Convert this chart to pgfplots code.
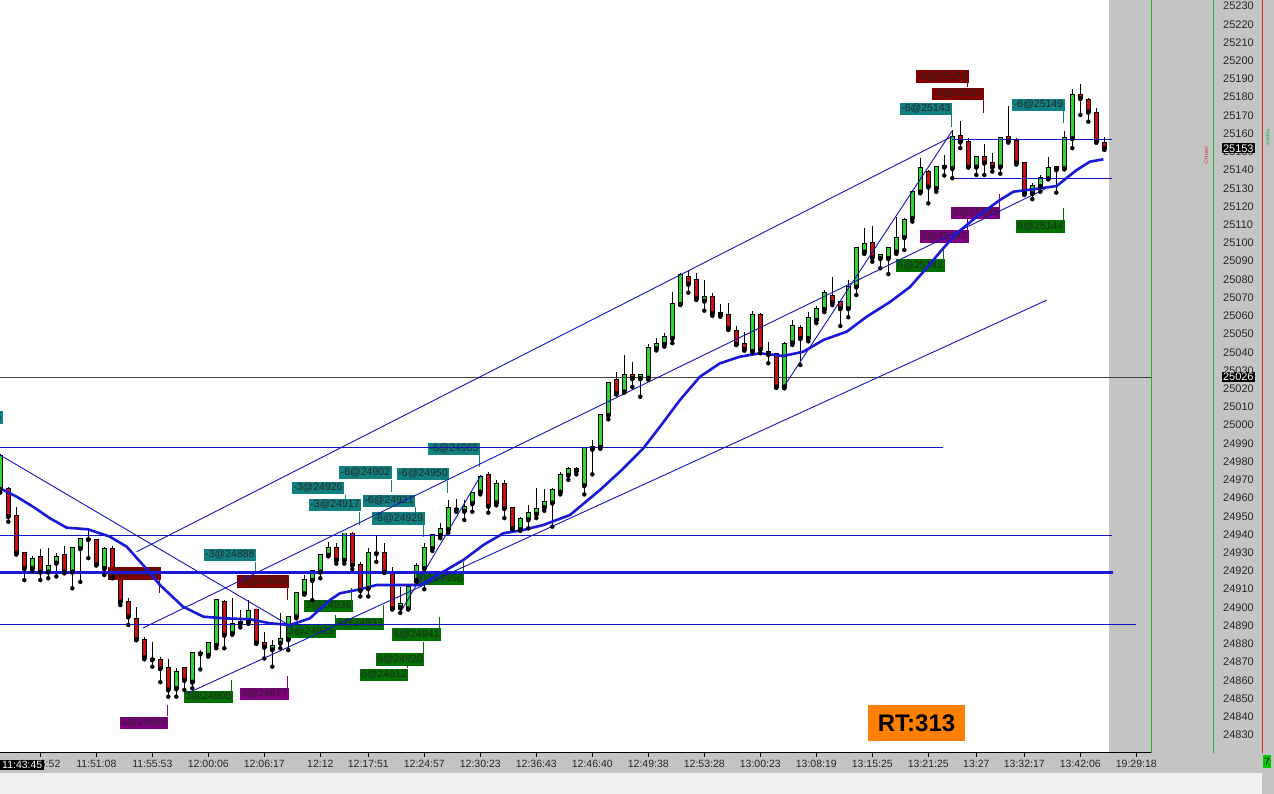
\documentclass[border=0pt]{standalone}
\usepackage{fontspec}
\setmainfont{Liberation Sans}
\usepackage{pgfplots}
\usepackage{pgfplotstable}
\pgfplotsset{compat=1.18}

\definecolor{bgray}{RGB}{196,196,196}
\definecolor{lgray}{RGB}{240,240,240}
\definecolor{upgreen}{RGB}{45,215,45}
\definecolor{dnred}{RGB}{205,15,15}
\definecolor{mablue}{RGB}{25,25,215}
\definecolor{lnblue}{RGB}{20,20,190}
\definecolor{tealbox}{RGB}{16,128,128}
\definecolor{redbox}{RGB}{128,0,0}
\definecolor{purbox}{RGB}{128,0,128}
\definecolor{grnbox}{RGB}{0,112,0}
\definecolor{edgegreen}{RGB}{30,185,30}
\definecolor{edgered}{RGB}{215,40,40}
\definecolor{rtorange}{RGB}{255,128,0}

% candles: index, open, high, low, close
\pgfplotstableread{
k o h l c
-1 24965 24984 24963 24983
0 24965 24966 24947 24950
1 24950 24955 24929 24930
2 24930 24930 24915 24921.5
3 24921.5 24928 24920 24926.4
4 24927.5 24932 24915 24919.6
5 24919.6 24932.4 24916 24922.7
6 24924.5 24929.7 24917 24927.8
7 24928.8 24933.7 24918.7 24919.6
8 24919.6 24932.4 24910.5 24932.4
9 24932.4 24937.5 24914 24937.4
10 24937.4 24943.4 24927 24937.4
11 24937 24937.2 24923 24923.7
12 24921.5 24933.3 24917.8 24931.9
13 24931.9 24933.7 24916 24916.9
14 24917 24917 24901.3 24903.2
15 24903 24905 24890.4 24895
16 24893.5 24900.4 24882 24882.5
17 24882 24883.6 24871.5 24872.6
18 24871.5 24881.2 24867.5 24871.5
19 24871 24873 24859 24866.6
20 24866.6 24871.5 24851 24855
21 24855.6 24866.6 24851 24864.7
22 24866.6 24867.5 24854.7 24860.2
23 24859.2 24875 24855.6 24874.8
24 24874.8 24876.6 24866 24874.8
25 24874 24881.2 24873 24880.6
26 24879.4 24904.5 24877.6 24904.1
27 24903.2 24904.1 24877.6 24884.9
28 24885.8 24905 24885 24890.7
29 24892 24898.6 24889 24891
30 24892 24904 24891 24898
31 24898.9 24899.4 24880 24880.6
32 24880.6 24886.6 24872 24878.4
33 24877 24882 24867.5 24878.8
34 24880.6 24896.8 24877.6 24882.5
35 24882.5 24895.5 24876.6 24895
36 24895 24907.7 24894 24907.7
37 24907.7 24917.8 24907 24915
38 24915 24920.5 24904 24919.9
39 24919.6 24928.8 24916 24928.8
40 24928.8 24936.1 24928 24932.4
41 24932.4 24935.2 24924 24926
42 24926 24941 24924 24940.6
43 24940.6 24941.5 24921 24923.3
44 24923.3 24925 24906 24909.5
45 24910.5 24932.4 24906 24929.7
46 24929.7 24939.7 24925 24930
47 24929.7 24935.5 24919 24919.6
48 24919.6 24922.3 24899 24899.4
49 24900 24911 24897 24902
50 24899.4 24912.3 24899 24911.4
51 24915 24924.2 24914 24922.7
52 24921.5 24935.2 24910 24932.4
53 24932.4 24940 24931 24939.7
54 24939.7 24946.1 24938 24942.9
55 24942.9 24958.9 24941 24954.4
56 24953.8 24959.3 24952.5 24953.8
57 24953 24959 24948 24955
58 24957.1 24963 24952.5 24962.6
59 24963.5 24972.7 24962 24971.4
60 24972.7 24974.5 24952 24955.7
61 24957.5 24969.9 24956 24967.7
62 24967.7 24970 24949 24954.4
63 24954.4 24955 24943 24943.4
64 24942.9 24949.8 24942 24948.3
65 24948.3 24956.2 24943.4 24951.6
66 24951.2 24965.3 24949 24953.8
67 24954.9 24964.8 24953 24958
68 24957.5 24965.3 24944.3 24964.2
69 24963.5 24974.5 24962 24972.7
70 24972.7 24977.2 24970 24975.8
71 24976 24977 24973 24975
72 24967 24988 24962 24987.3
73 24987 24992 24973 24988
74 24988.1 25006 24987 25005.5
75 25005.5 25023.8 25003.2 25023.3
76 25024.7 25029.3 25016.9 25017.5
77 25018.4 25038.5 25018 25027.5
78 25027.5 25034.8 25021 25025.7
79 25025.7 25028 25015.6 25027.5
80 25026 25044.4 25025 25042.2
81 25042.2 25047.7 25041 25044.4
82 25044.4 25050.4 25043.1 25048.2
83 25047.7 25073.2 25045 25066.5
84 25066.5 25083.3 25066 25082.4
85 25081.1 25085.1 25072.7 25077.5
86 25079.7 25083.3 25068.7 25069.6
87 25068.3 25079.7 25062.8 25070.2
88 25070.2 25072.7 25060 25061.4
89 25061.7 25066.5 25059.5 25060.5
90 25060.5 25066.9 25052.2 25053.2
91 25051.7 25054.4 25044 25044.5
92 25044.5 25051.3 25040.9 25041.6
93 25040.7 25062.6 25040 25060.3
94 25060.5 25061.4 25039.4 25041.6
95 25040 25045.4 25034 25039
96 25039 25039.5 25020.5 25021.1
97 25021.1 25045.8 25020.2 25044.5
98 25045.3 25057.7 25044 25054.4
99 25053.5 25055 25033 25047.7
100 25047.7 25062.3 25046 25058.6
101 25057.7 25065.4 25056 25063.6
102 25063.6 25074.1 25062 25072.4
103 25071 25081.1 25065.9 25067.4
104 25067.4 25068.7 25054.4 25064.1
105 25064.1 25079.7 25059.2 25076
106 25076 25097.5 25071.4 25097.1
107 25095.2 25108 25094 25099.3
108 25100.1 25109.3 25089.7 25092.1
109 25091.6 25093.4 25086.1 25093.4
110 25091.6 25098 25082.9 25097.1
111 25095.2 25114.4 25094 25102.5
112 25103.1 25113.5 25096.1 25112.6
113 25113.5 25129 25111.7 25128.1
114 25128.1 25146.4 25127.2 25140.9
115 25139.1 25140 25121.7 25130.9
116 25130 25142 25128 25141.8
117 25141.8 25148.3 25137 25142.5
118 25141 25162 25135.5 25158
119 25158.7 25167.1 25152 25155.6
120 25155.6 25157.4 25141.5 25141.8
121 25141.8 25147 25137.3 25147
122 25147 25154.3 25137.3 25144
123 25144 25149.5 25139.1 25141.8
124 25141.8 25158 25138 25157.4
125 25158 25175.1 25155 25156.1
126 25156.1 25157.4 25143 25144
127 25144 25144.5 25126.3 25127.2
128 25127.2 25132.7 25124 25131.2
129 25131.2 25137.3 25128.1 25135.4
130 25135.4 25147 25135 25140.9
131 25141.8 25142.2 25127.6 25140.4
132 25140.9 25161.6 25140.4 25157.4
133 25157.4 25184.4 25152 25181.2
134 25181.2 25187.2 25170.2 25179.4
135 25178.4 25179.4 25166.5 25172
136 25171.5 25173.9 25155 25155.6
137 25155 25158 25151 25152
}\candles

\tikzset{tag/.style={inner xsep=1.5pt, inner ysep=1.6pt, text height=7.6pt,
    text depth=1.8pt, font=\fontsize{10.5}{12}\selectfont, text=black!85}}

\begin{document}
\begin{tikzpicture}
% window background
\begin{scope}[x=1pt, y=1pt]
\fill[white] (0,0) rectangle (1274,794);
\fill[bgray] (1109,41) rectangle (1274,794);
\fill[bgray] (0,21) rectangle (1274,41);
\fill[lgray] (0,0) rectangle (1262,21);
\fill[bgray] (1262,0) rectangle (1274,21);
\end{scope}

\begin{axis}[
    at={(0pt,41pt)}, anchor=south west,
    width=1151pt, height=753pt, scale only axis,
    xmin=-1.0375, xmax=142.8375,
    ymin=24820.12, ymax=25233.29,
    axis x line*=bottom, axis y line*=right,
    x axis line style={-, black, line width=1pt},
    y axis line style={-, draw=none},
    ytick={24830,24840,...,25230},
    ytick style={draw=none},
    scaled y ticks=false,
    yticklabel style={anchor=west, inner sep=0pt, xshift=68pt,
        font=\fontsize{11}{13}\selectfont, text=black!85,
        /pgf/number format/fixed, /pgf/number format/precision=0,
        /pgf/number format/1000 sep={},
        /pgf/number format/assume math mode=true},
    xtick={4,11,18,25,32,39,45,52,59,66,73,80,87,94,101,108,115,121,127,134,141},
    xticklabels={11:46:52,11:51:08,11:55:53,12:00:06,12:06:17,12:12,12:17:51,
        12:24:57,12:30:23,12:36:43,12:46:40,12:49:38,12:53:28,13:00:23,13:08:19,
        13:15:25,13:21:25,13:27,13:32:17,13:42:06,19:29:18},
    tick align=outside, major tick length=4pt,
    xtick style={black, line width=0.8pt},
    xticklabel style={font=\fontsize{10.5}{12}\selectfont, text=black!85},
    unbounded coords=jump,
]
% wicks
\addplot[only marks, mark=none, forget plot,
    error bars/.cd, y dir=plus, y explicit, error mark=none,
    error bar style={draw=black, line width=1pt}]
    table[x=k, y=l, y error plus expr=\thisrow{h}-\thisrow{l}] {\candles};
% body outlines
\addplot[only marks, mark=none, forget plot,
    error bars/.cd, y dir=plus, y explicit, error mark=none,
    error bar style={draw=black, line width=5.4pt}]
    table[x=k, y expr={min(\thisrow{o},\thisrow{c})-0.5},
          y error plus expr={abs(\thisrow{c}-\thisrow{o})+1}] {\candles};
% up bodies
\addplot[only marks, mark=none, forget plot,
    restrict expr to domain={\thisrow{c}-\thisrow{o}}{0:1000},
    error bars/.cd, y dir=plus, y explicit, error mark=none,
    error bar style={draw=upgreen, line width=3.6pt}]
    table[x=k, y=o, y error plus expr={\thisrow{c}-\thisrow{o}}] {\candles};
% down bodies
\addplot[only marks, mark=none, forget plot,
    restrict expr to domain={\thisrow{o}-\thisrow{c}}{0.001:1000},
    error bars/.cd, y dir=plus, y explicit, error mark=none,
    error bar style={draw=dnred, line width=3.6pt}]
    table[x=k, y=c, y error plus expr={\thisrow{o}-\thisrow{c}}] {\candles};

% trade tags
\node[tag, fill=purbox] at (axis cs:16.96,24836.58) {3@24855};
\node[tag, fill=grnbox] at (axis cs:25.03,24850.85) {3@24905};
\node[tag, fill=purbox] at (axis cs:32.03,24852.49) {3@24877};
\node[tag, fill=tealbox] at (axis cs:27.71,24928.76) {-3@24888};
\node[tag, fill=redbox] at (axis cs:31.84,24914.11) {-3@24886};
\node[tag, fill=redbox] at (axis cs:15.78,24918.5) {-3@24880};
\node[tag, fill=grnbox] at (axis cs:40.03,24900.78) {3@24936};
\node[tag, fill=grnbox] at (axis cs:37.88,24886.68) {3@24925};
\node[tag, fill=grnbox] at (axis cs:43.96,24890.9) {6@24933};
\node[tag, fill=tealbox] at (axis cs:40.84,24956.2) {-3@24917};
\node[tag, fill=tealbox] at (axis cs:38.71,24965.5) {-3@24926};
\node[tag, fill=tealbox] at (axis cs:44.65,24974.0) {-6@24902};
\node[tag, fill=tealbox] at (axis cs:47.59,24958.4) {-6@24921};
\node[tag, fill=tealbox] at (axis cs:51.84,24973.2) {-6@24950};
\node[tag, fill=tealbox] at (axis cs:55.71,24986.9) {-6@24965};
\node[tag, fill=tealbox] at (axis cs:48.78,24948.9) {-6@24929};
\node[tag, fill=grnbox] at (axis cs:53.96,24915.6) {6@24956};
\node[tag, fill=grnbox] at (axis cs:51.05,24885.1) {6@24941};
\node[tag, fill=grnbox] at (axis cs:48.96,24871.4) {6@24920};
\node[tag, fill=grnbox] at (axis cs:46.96,24862.9) {6@24912};
\node[tag, fill=tealbox] at (axis cs:114.71,25173.5) {-6@25143};
\node[tag, fill=redbox] at (axis cs:116.78,25191.2) {-6@25151};
\node[tag, fill=redbox] at (axis cs:118.75,25181.8) {-6@25137};
\node[tag, fill=tealbox] at (axis cs:128.78,25175.7) {-6@25149};
\node[tag, fill=purbox] at (axis cs:120.94,25116.5) {6@25135};
\node[tag, fill=purbox] at (axis cs:116.99,25103.4) {6@25147};
\node[tag, fill=grnbox] at (axis cs:113.99,25087.6) {6@25142};
\node[tag, fill=grnbox] at (axis cs:129.03,25109.1) {6@25144};

% tag stems
\addplot[tealbox, line width=1pt, forget plot] coordinates {
 (30.88,24925.1) (30.88,24919.6) (0,nan)
 (43.96,24952.4) (43.96,24945.2) (0,nan)
 (42.09,24961.7) (42.09,24956.2) (0,nan)
 (47.93,24969.9) (47.93,24963.5) (0,nan)
 (50.84,24955.1) (50.84,24952.4) (0,nan)
 (54.93,24969.5) (54.93,24962.9) (0,nan)
 (58.88,24983.6) (58.88,24977.2) (0,nan)
 (51.88,24945.8) (51.88,24938.8) (0,nan)
 (117.88,25170.2) (117.88,25163.8) (0,nan)
 (131.88,25172.5) (131.88,25165.6)};
\addplot[redbox, line width=1pt, forget plot] coordinates {
 (34.88,24911.2) (34.88,24904.1) (0,nan)
 (18.88,24915.0) (18.88,24908.1) (0,nan)
 (119.88,25187.9) (119.88,25185.7) (0,nan)
 (121.88,25178.8) (121.88,25171.5)};
\addplot[purbox, line width=1pt, forget plot] coordinates {
 (19.84,24846.45) (19.84,24840.41) (0,nan)
 (34.9,24862.4) (34.9,24855.8) (0,nan)
 (123.88,25126.8) (123.88,25119.9) (0,nan)
 (119.88,25113.0) (119.88,25106.7)};
\addplot[grnbox, line width=1pt, forget plot] coordinates {
 (27.84,24860.17) (27.84,24853.59) (0,nan)
 (42.93,24910.7) (42.93,24904.1) (0,nan)
 (40.84,24895.8) (40.84,24889.8) (0,nan)
 (46.88,24901.3) (46.88,24894.2) (0,nan)
 (56.88,24925.1) (56.88,24918.7) (0,nan)
 (53.88,24894.9) (53.88,24888.5) (0,nan)
 (51.88,24881.2) (51.88,24874.8) (0,nan)
 (49.84,24871.2) (49.84,24866.8) (0,nan)
 (116.88,25097.6) (116.88,25091.0) (0,nan)
 (131.88,25119.0) (131.88,25112.6)};

% horizontal levels
\addplot[black!75, line width=1pt, forget plot] coordinates {(-1.04,25026) (142.84,25026)};
\addplot[lnblue, line width=1pt, forget plot] coordinates {(-1.04,24987.5) (116.84,24987.5)};
\addplot[lnblue, line width=1pt, forget plot] coordinates {(-1.04,24939.7) (137.96,24939.7)};
\addplot[mablue, line width=2.6pt, forget plot] coordinates {(-1.04,24919.1) (138.09,24919.1)};
\addplot[lnblue, line width=1pt, forget plot] coordinates {(-1.04,24890.7) (140.96,24890.7)};
\addplot[lnblue, line width=1pt, forget plot] coordinates {(117.96,25156.5) (137.96,25156.5)};
\addplot[lnblue, line width=1pt, forget plot] coordinates {(117.96,25135.5) (137.96,25135.5)};

% trend lines
\addplot[lnblue, line width=0.9pt, forget plot] coordinates {(16.05,24930.57) (117.96,25158.4)};
\addplot[lnblue, line width=0.9pt, forget plot] coordinates {(16.84,24888.71) (129.59,25129.59)};
\addplot[lnblue, line width=0.9pt, forget plot] coordinates {(96.84,25020.39) (117.96,25161.41)};
\addplot[lnblue, line width=0.9pt, forget plot] coordinates {(22.46,24853.04) (129.84,25068.68)};
\addplot[lnblue, line width=0.9pt, forget plot] coordinates {(-1.04,24983.63) (35.46,24889.25)};
\addplot[lnblue, line width=0.9pt, forget plot] coordinates {(48.96,24896.94) (59.09,24972.66)};

% moving average
\addplot[mablue, line width=2.6pt, forget plot] coordinates {
 (-1.04,24965.36) (1.05,24960.75) (3.09,24955.26) (5.21,24948.90) (7.30,24943.74)
 (9.96,24942.86) (12.71,24938.80) (14.80,24933.32) (16.84,24923.27) (18.96,24912.30)
 (21.84,24900.39) (24.38,24894.91) (26.88,24894.03) (30.21,24893.48) (32.71,24891.29)
 (35.21,24890.35) (37.71,24894.03) (40.21,24904.07) (41.46,24907.75) (43.96,24909.94)
 (46.05,24912.30) (48.96,24912.30) (51.46,24912.30) (54.38,24919.60) (56.88,24926.02)
 (59.38,24934.25) (61.88,24940.67) (64.38,24942.48) (66.88,24945.22) (70.21,24950.71)
 (73.96,24964.43) (76.68,24975.40) (79.38,24987.31) (81.46,24999.16) (83.96,25013.81)
 (86.46,25026.60) (88.96,25033.95) (91.46,25037.57) (93.96,25039.43) (96.88,25037.95)
 (99.38,25040.31) (101.88,25046.73) (104.80,25051.29) (107.30,25059.52) (110.21,25067.58)
 (112.71,25075.81) (114.80,25086.24) (116.46,25095.02) (118.55,25105.28) (121.05,25114.39)
 (123.96,25123.55) (125.63,25128.10) (128.13,25129.42) (131.05,25131.23) (133.55,25140.01)
 (135.21,25144.57) (136.88,25145.88)};
\end{axis}

% overlays on the frame
\begin{scope}[x=1pt, y=1pt]
\draw[edgegreen, line width=1pt] (1151,41) -- (1151,794);
\draw[edgegreen, line width=1pt] (1213,41) -- (1213,794);
\draw[edgered, line width=1pt] (1262,41) -- (1262,794);
\node[fill=tealbox, tag, anchor=east] at (3,376.5) {-6@24975};
\node[fill=black, text=white, inner xsep=2pt, inner ysep=1.5pt, anchor=west,
      font=\fontsize{10.5}{12}\selectfont] at (0,29) {11:43:45};
\node[fill=black, text=white, inner xsep=1pt, inner ysep=1.2pt,
      font=\fontsize{11}{13}\selectfont] at (1238.3,645.7) {25153};
\node[fill=black, text=white, inner xsep=1pt, inner ysep=1.2pt,
      font=\fontsize{11}{13}\selectfont] at (1238.3,417.3) {25026};
\node[rotate=90, text=edgered, font=\fontsize{5}{6}\selectfont] at (1206,638) {-Chiwan};
\node[rotate=-90, text=edgegreen, font=\fontsize{5}{6}\selectfont] at (1268,656) {Ngoilun};
\node[fill={rgb,255:red,0;green,200;blue,0}, text=black, inner sep=1pt,
      minimum height=13pt, anchor=west, font=\fontsize{10.5}{12}\selectfont] at (1263,32.5) {7};
\node[fill=rtorange, text=black, minimum width=97pt, minimum height=36pt,
      font=\fontsize{24}{28}\selectfont\bfseries] at (916.5,71) {RT:313};
\pgfresetboundingbox
\path[use as bounding box] (0,0) rectangle (1274,794);
\end{scope}
\end{tikzpicture}
\end{document}
